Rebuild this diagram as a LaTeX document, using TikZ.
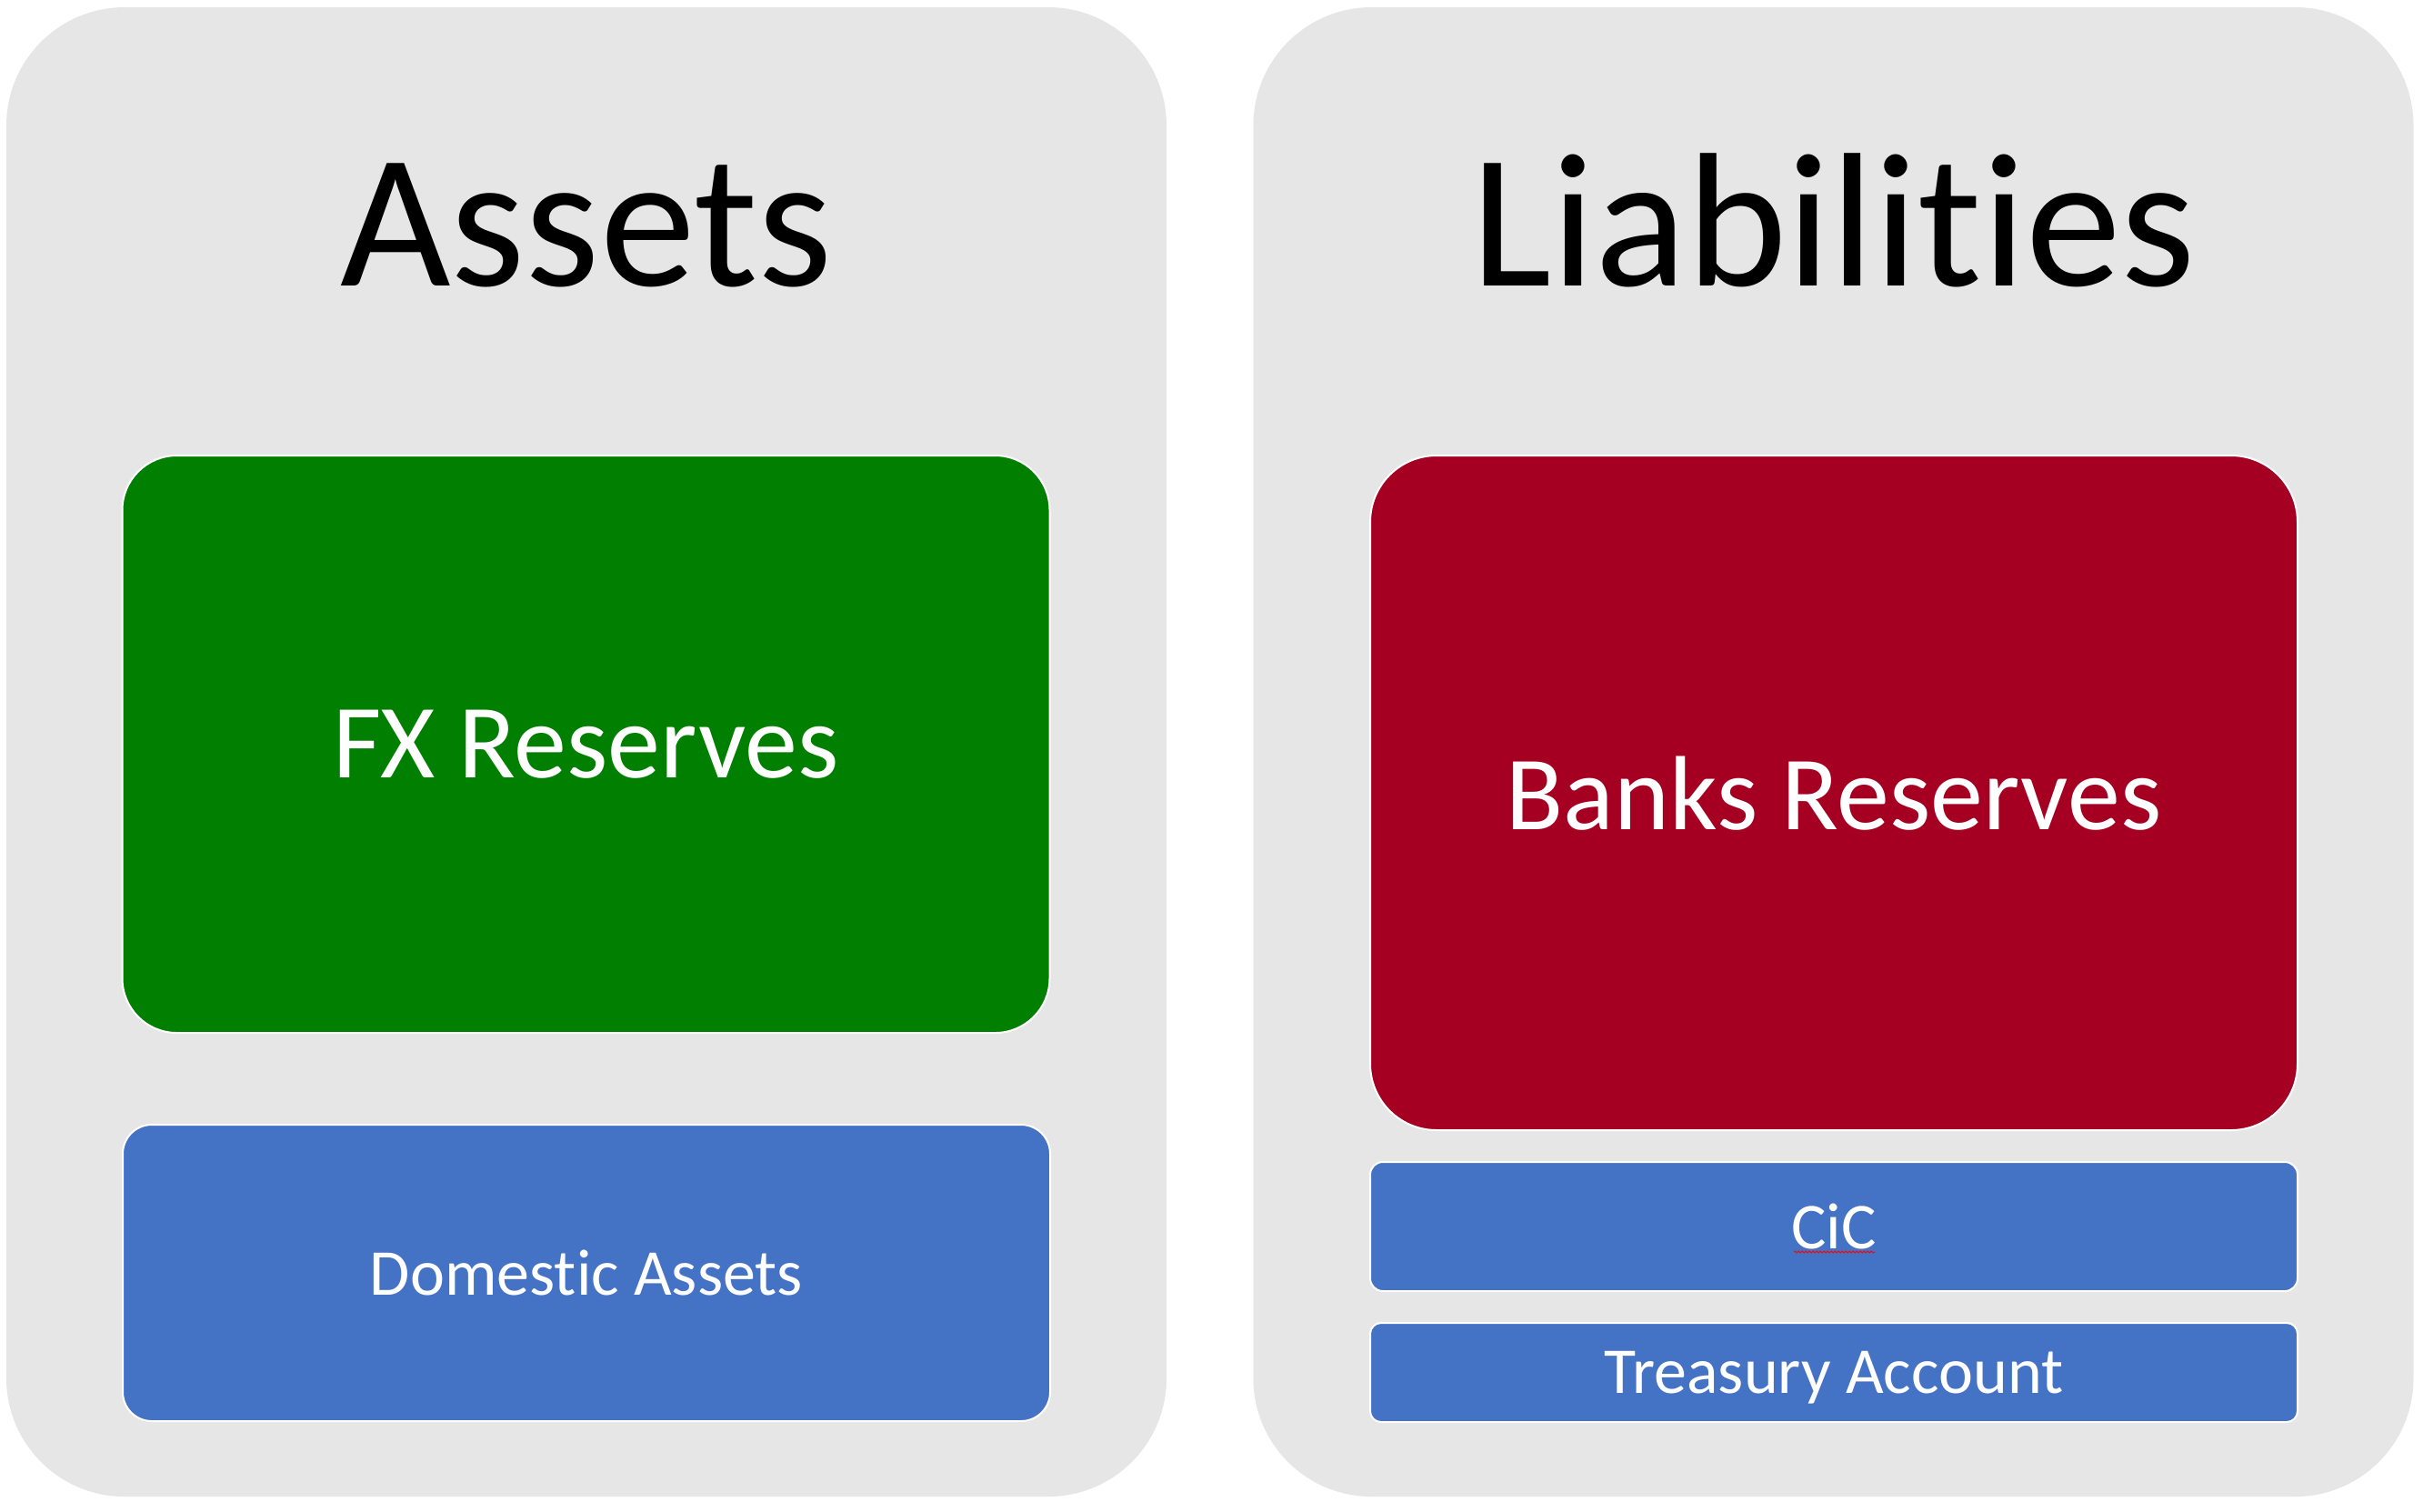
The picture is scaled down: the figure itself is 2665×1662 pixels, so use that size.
\documentclass[tikz,border=0pt]{standalone}
\usepackage{fontspec}
\setmainfont{Carlito}[Ligatures=NoCommon]
\usepackage{tikz}
\usetikzlibrary{positioning}
\usetikzlibrary{decorations.pathmorphing}
\definecolor{panelgray}{HTML}{E6E6E6}
\definecolor{fxgreen}{HTML}{007F00}
\definecolor{bankred}{HTML}{A50021}
\definecolor{boxblue}{HTML}{4472C4}

\begin{document}
\begin{tikzpicture}[x=0.5pt,y=0.5pt,yscale=-1,xscale=1]
 \tikzstyle{panel} = [fill=panelgray,inner sep=0pt,rounded corners=65pt,minimum width=638pt,minimum height=819pt]
 \tikzstyle{title} = [anchor=base,inner sep=0pt,font=\fontsize{105}{126}\selectfont]
 \tikzstyle{block} = [draw=white,line width=1pt,inner sep=0pt,text=white,text depth=0pt,minimum width=510pt]
 \tikzstyle{bigtext} = [font=\fontsize{58}{70}\selectfont]
 \tikzstyle{smalltext} = [font=\fontsize{36}{43}\selectfont]
 \useasboundingbox (0,0) rectangle (2665,1662);
 %Draw the two grey panels
 \node[panel] (assets) at (645,827) {};
 \node[panel] (liabs) at (2016.5,827) {};
 %Titles
 \node[title] (assetstitle) at (645,314.5) {Assets};
 \node[title] (liabstitle) at (2017,314.5) {Liabilities};
 %Asset side
 \node[block,bigtext,fill=fxgreen,rounded corners=30pt,minimum height=317.5pt] (fx) at (644.5,818.5) {FX Reserves};
 \node[block,smalltext,fill=boxblue,rounded corners=16pt,minimum height=163pt] (domestic) at (645,1400) {Domestic Assets};
 %Liability side
 \node[block,bigtext,fill=bankred,rounded corners=36.5pt,minimum height=371pt] (banks) at (2017,872) {Banks Reserves};
 \node[block,smalltext,fill=boxblue,rounded corners=7pt,minimum height=71pt] (cic) at (2017,1349) {CiC};
 \node[block,smalltext,fill=boxblue,rounded corners=6pt,minimum height=54.5pt] (treasury) at (2017,1509.5) {Treasury Account};
 %spell check squiggle under CiC
 \draw[red,line width=0.4pt,decorate,decoration={snake,amplitude=0.5pt,segment length=2pt}] (1973,1377) -- (2062,1377);
\end{tikzpicture}
\end{document}
